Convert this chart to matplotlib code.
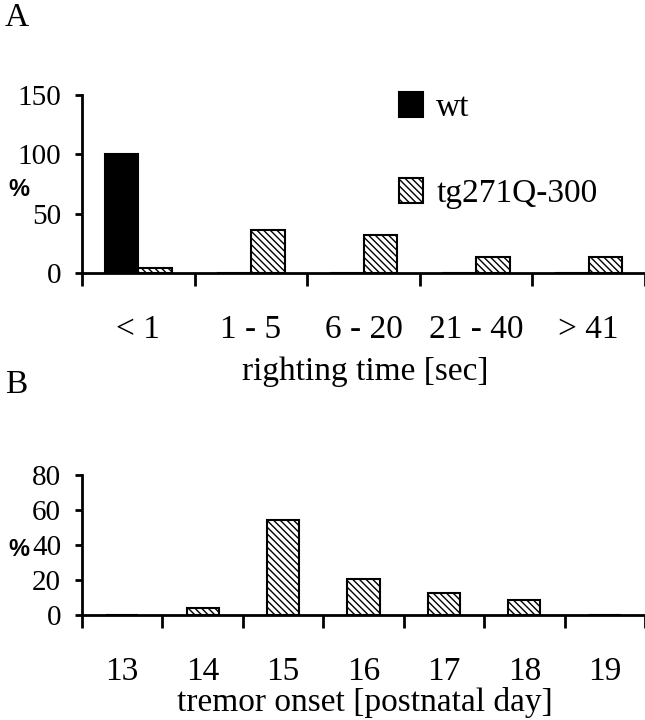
import matplotlib.pyplot as plt
import numpy as np

# Data
righting_labels = ['< 1', '1 - 5', '6 - 20', '21 - 40', '> 41']
wt_pct = [100, 0, 0, 0, 0]
tg_pct = [4.5, 36.4, 31.8, 13.6, 13.6]

onset_days = ['13', '14', '15', '16', '17', '18', '19']
onset_pct = [0, 4.2, 54.2, 20.8, 12.5, 8.3, 0]

# Style
font_size = 24
line_w = 2
plt.rcParams.update({'font.family': 'Liberation Serif',
                     'font.size': font_size,
                     'hatch.linewidth': 1.0,
                     'axes.linewidth': line_w})
hatch = '\\\\\\\\\\'

W, H = 645, 720
fig = plt.figure(figsize=(W / 100, H / 100), dpi=100)


def fx(px):
    return px / W


def fy(py):
    return 1 - py / H


def style_axes(ax, n, cat_px):
    ax.spines['top'].set_visible(False)
    ax.spines['right'].set_visible(False)
    ax.set_xlim(-0.5, -0.5 + (W - 82) / cat_px)
    # category boundary ticks (major), labels at centers (minor)
    ax.set_xticks(np.arange(n + 1) - 0.5)
    ax.set_xticklabels([])
    ax.tick_params(axis='x', which='major', direction='out', length=9, width=line_w)
    ax.tick_params(axis='y', direction='out', length=5, width=line_w, pad=10, labelsize=21)
    ax.tick_params(axis='x', which='minor', length=0, pad=30)


# Panel A
axA = fig.add_axes([fx(82), fy(273), 1 - fx(82), fy(95) - fy(273)])
x = np.arange(len(righting_labels))
bw = 0.3
axA.bar(x - bw / 2, wt_pct, bw, color='black', edgecolor='black', linewidth=1.5, label='wt')
axA.bar(x + bw / 2, tg_pct, bw, color='white', edgecolor='black', linewidth=1.5,
        hatch=hatch, label='tg271Q-300')
axA.set_ylim(0, 150)
axA.set_yticks([0, 50, 100, 150])
style_axes(axA, len(righting_labels), 116)
axA.set_xticks(x, minor=True)
axA.set_xticklabels(righting_labels, minor=True)

axA.legend(loc='upper left', bbox_to_anchor=(fx(399), fy(92)), bbox_transform=fig.transFigure,
           frameon=False, borderpad=0, borderaxespad=0, handlelength=0.72, handleheight=0.78,
           handletextpad=0.4, labelspacing=1.65)

# Panel B
axB = fig.add_axes([fx(82), fy(615), 1 - fx(82), fy(475) - fy(615)])
xb = np.arange(len(onset_days))
axB.bar(xb, onset_pct, 0.4, color='white', edgecolor='black', linewidth=1.5, hatch=hatch)
axB.set_ylim(0, 80)
axB.set_yticks([0, 20, 40, 60, 80])
style_axes(axB, len(onset_days), 81.3)
axB.set_xticks(xb, minor=True)
axB.set_xticklabels(onset_days, minor=True)

# Labels
fig.text(fx(5), fy(2), 'A', fontsize=font_size, va='top', ha='left')
fig.text(fx(5), fy(370), 'B', fontsize=font_size, va='top', ha='left')
fig.text(fx(365), fy(372), 'righting time [sec]', ha='center', va='center')
fig.text(fx(365), fy(703), 'tremor onset [postnatal day]', ha='center', va='center')
fig.text(fx(19), fy(190), '%', family='Liberation Sans', weight='bold', fontsize=17,
         ha='center', va='center')
fig.text(fx(19), fy(550), '%', family='Liberation Sans', weight='bold', fontsize=17,
         ha='center', va='center')

plt.savefig('out.png', dpi=100)
